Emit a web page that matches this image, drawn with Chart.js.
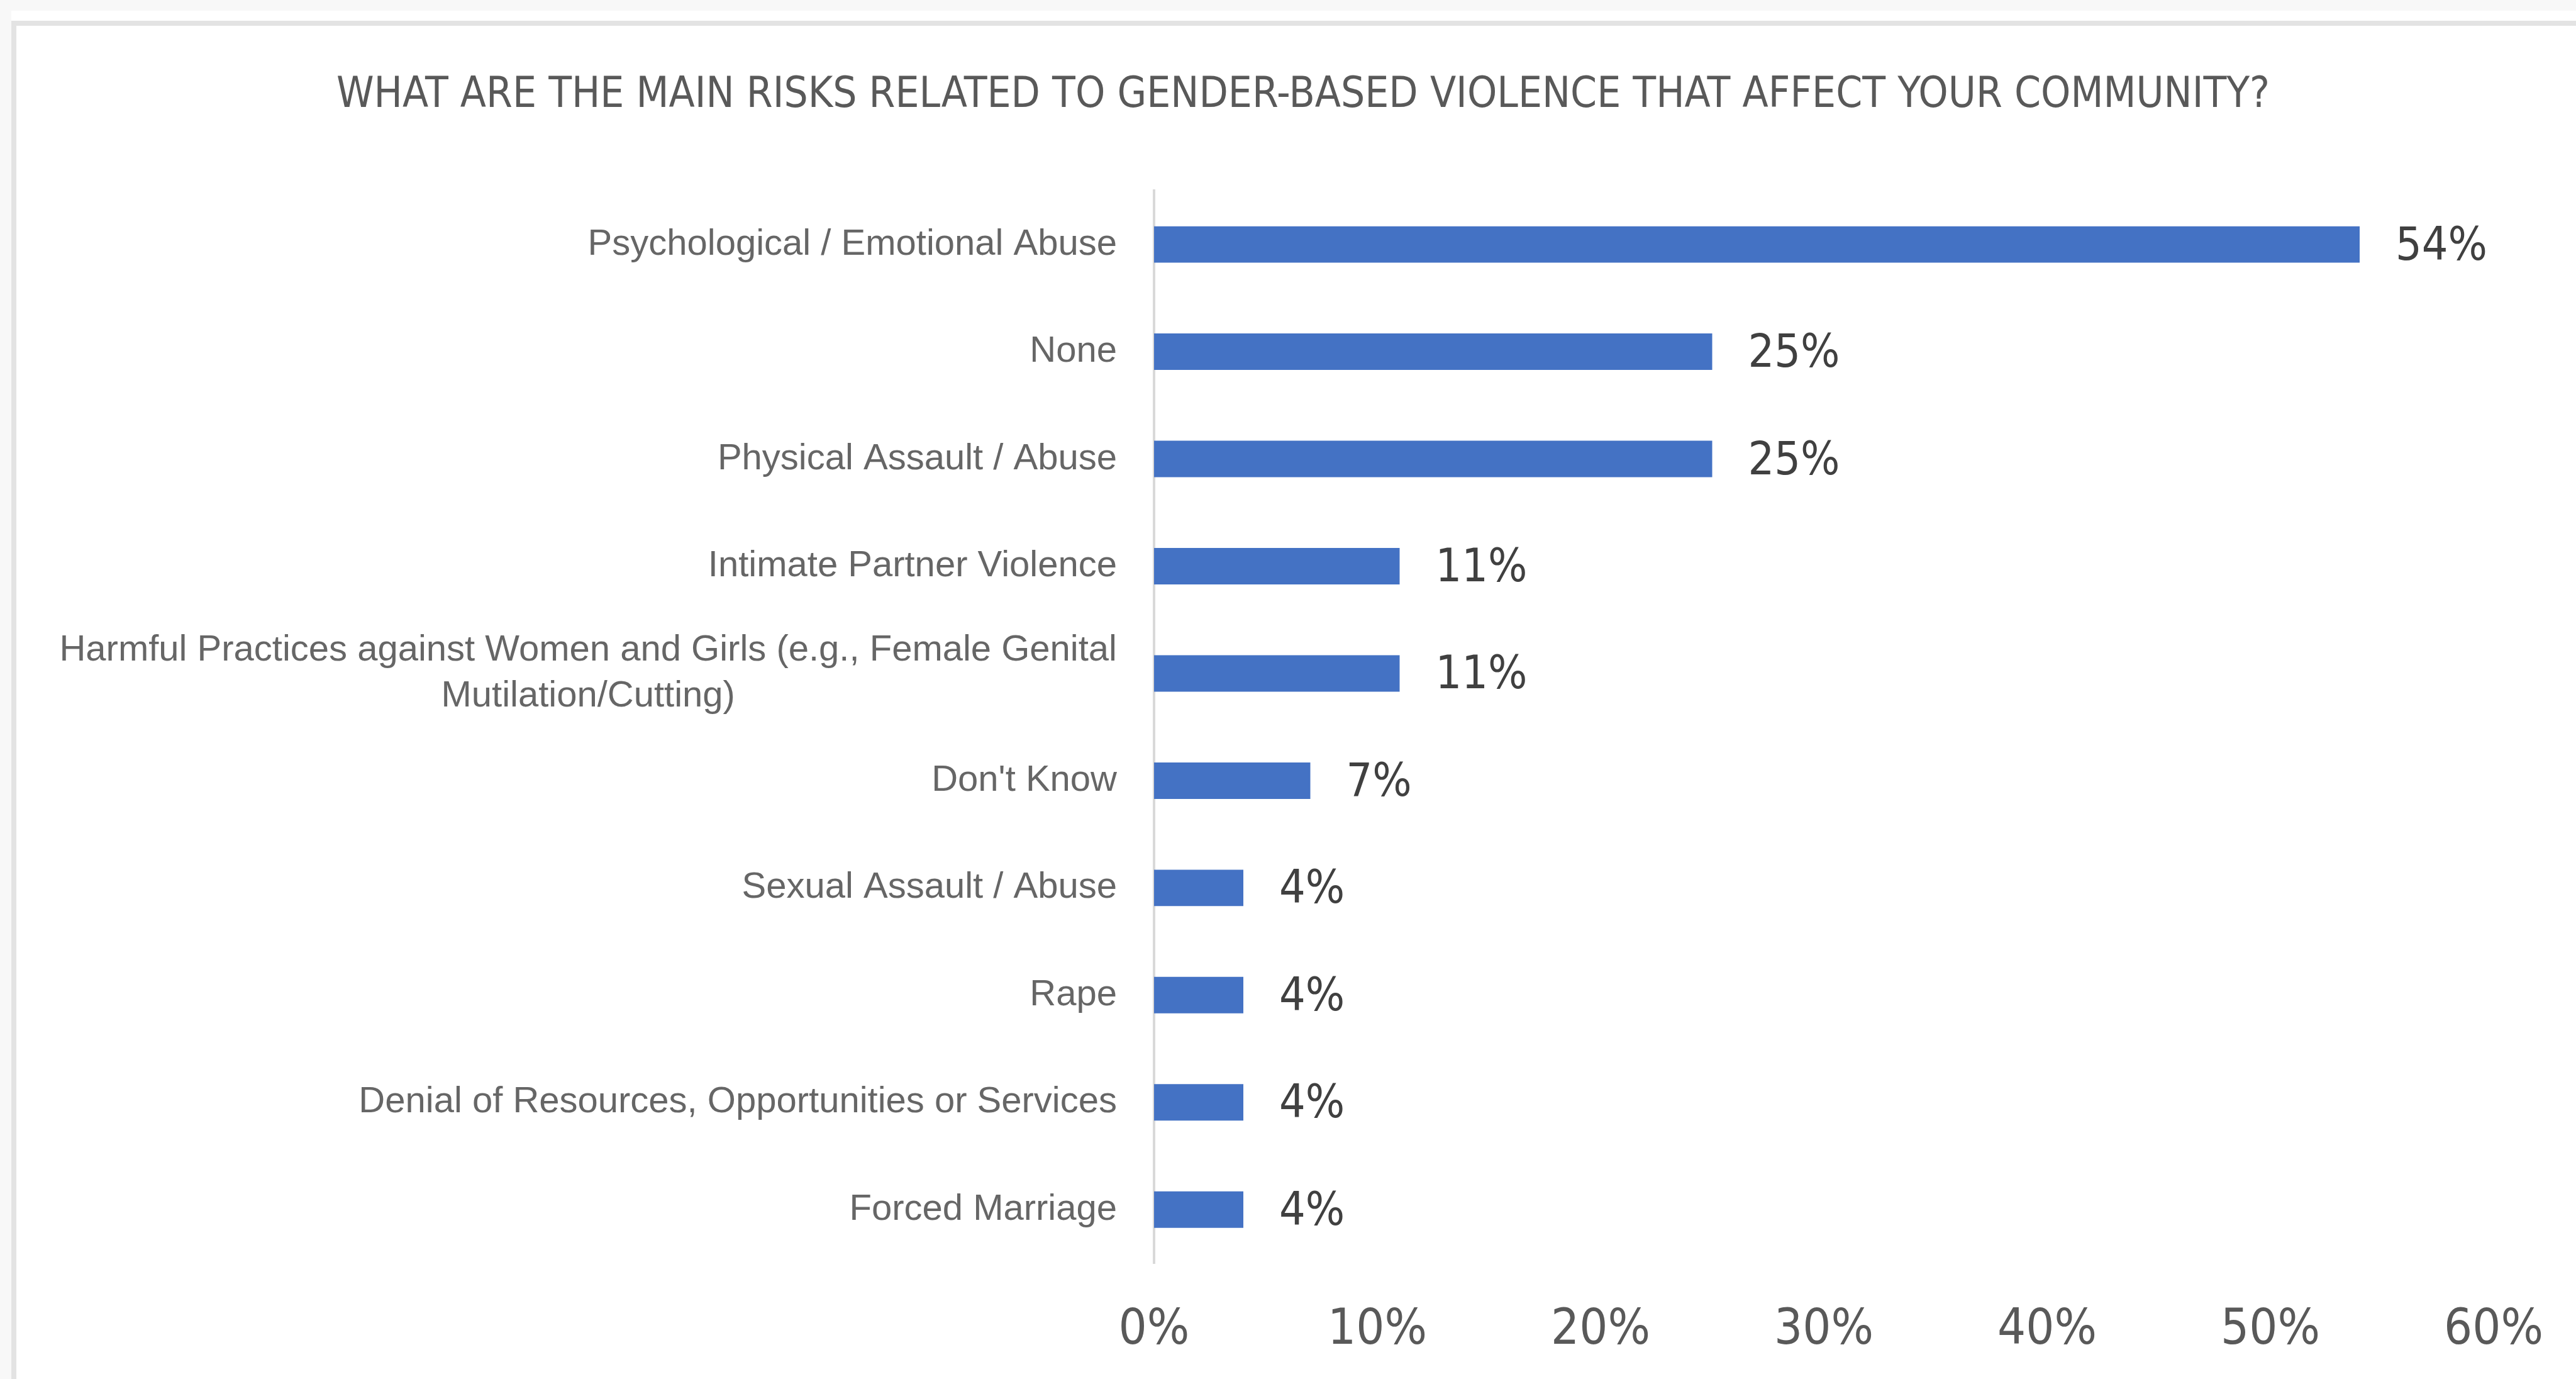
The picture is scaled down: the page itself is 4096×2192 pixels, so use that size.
<!DOCTYPE html>
<html>
<head>
<meta charset="utf-8">
<title>GBV risks</title>
<script src="https://cdn.jsdelivr.net/npm/chart.js@4.4.1/dist/chart.umd.min.js"></script>
<style>
  html, body { margin: 0; padding: 0; background: #f8f8f8; overflow: hidden; }
  #sheet { position: absolute; left: 18px; top: 17px; right: 0; bottom: 0; background: #fff; }
  #frame { position: absolute; left: 0; top: 16px; right: 0; bottom: 0;
           border-top: 8px solid #e3e3e3; border-left: 8px solid #e3e3e3; }
  #wrap { position: absolute; left: 0; top: 0; width: 4096px; height: 2192px; }
</style>
</head>
<body>
<div id="sheet"><div id="frame"></div></div>
<div id="wrap"><canvas id="risks" width="4096" height="2192"></canvas></div>
<script>
const categories = [
  'Psychological / Emotional Abuse',
  'None',
  'Physical Assault / Abuse',
  'Intimate Partner Violence',
  ['Harmful Practices against Women and Girls (e.g., Female Genital', 'Mutilation/Cutting)'],
  "Don't Know",
  'Sexual Assault / Abuse',
  'Rape',
  'Denial of Resources, Opportunities or Services',
  'Forced Marriage'
];
const shares = [54, 25, 25, 11, 11, 7, 4, 4, 4, 4];
const xTicks = [0, 10, 20, 30, 40, 50, 60];

const NARROW = '"DejaVu Sans Condensed", "Liberation Sans Narrow", "Arial Narrow", sans-serif';
const REGULAR = '"Liberation Sans", Arial, sans-serif';

// category names on the left, second line of a wrapped name centred under the first
const categoryLabels = {
  id: 'categoryLabels',
  afterDraw(chart) {
    const { ctx } = chart;
    const y = chart.scales.y;
    const right = y.right - 59;
    const lineH = 73;
    ctx.save();
    ctx.font = '58px ' + REGULAR;
    ctx.fillStyle = '#666666';
    ctx.textBaseline = 'middle';
    ctx.textAlign = 'center';
    categories.forEach((label, i) => {
      const lines = Array.isArray(label) ? label : [label];
      const cy = y.getPixelForValue(i);
      const maxW = Math.max(...lines.map(l => ctx.measureText(l).width));
      lines.forEach((line, k) => {
        ctx.fillText(line, right - maxW / 2, cy + (k - (lines.length - 1) / 2) * lineH);
      });
    });
    ctx.restore();
  }
};

// percentage printed just past the end of each bar
const valueLabels = {
  id: 'valueLabels',
  afterDatasetsDraw(chart) {
    const { ctx } = chart;
    const meta = chart.getDatasetMeta(0);
    ctx.save();
    ctx.font = '73px ' + NARROW;
    ctx.fillStyle = '#404040';
    ctx.textBaseline = 'middle';
    ctx.textAlign = 'left';
    meta.data.forEach((bar, i) => {
      ctx.fillText(shares[i] + '%', bar.x + 57, bar.y + 5);
    });
    ctx.restore();
  }
};

new Chart(document.getElementById('risks'), {
  type: 'bar',
  data: {
    labels: categories,
    datasets: [{
      data: shares,
      backgroundColor: '#4472C4',
      barPercentage: 0.34,
      categoryPercentage: 1.0
    }]
  },
  options: {
    indexAxis: 'y',
    responsive: false,
    animation: false,
    layout: { padding: { left: 177, right: 129, top: 0, bottom: 0 } },
    plugins: {
      legend: { display: false },
      tooltip: { enabled: false },
      title: {
        display: true,
        text: 'WHAT ARE THE MAIN RISKS RELATED TO GENDER-BASED VIOLENCE THAT AFFECT YOUR COMMUNITY?',
        color: '#595959',
        font: { family: NARROW, size: 67, weight: 'normal', lineHeight: 1.2 },
        padding: { top: 112, bottom: 111 }
      }
    },
    scales: {
      x: {
        min: 0,
        max: 60,
        afterBuildTicks: s => { s.ticks = xTicks.map(v => ({ value: v })); },
        afterFit: s => { s.height = 184; },
        grid: { display: false },
        border: { display: false },
        ticks: {
          color: '#595959',
          padding: 52,
          font: { family: NARROW, size: 79 },
          callback: v => v + '%'
        }
      },
      y: {
        afterFit: s => { s.width = 1658; },
        grid: { display: false },
        border: { display: true, color: '#d9d9d9', width: 4 },
        ticks: { display: false }
      }
    }
  },
  plugins: [categoryLabels, valueLabels]
});
</script>
</body>
</html>
